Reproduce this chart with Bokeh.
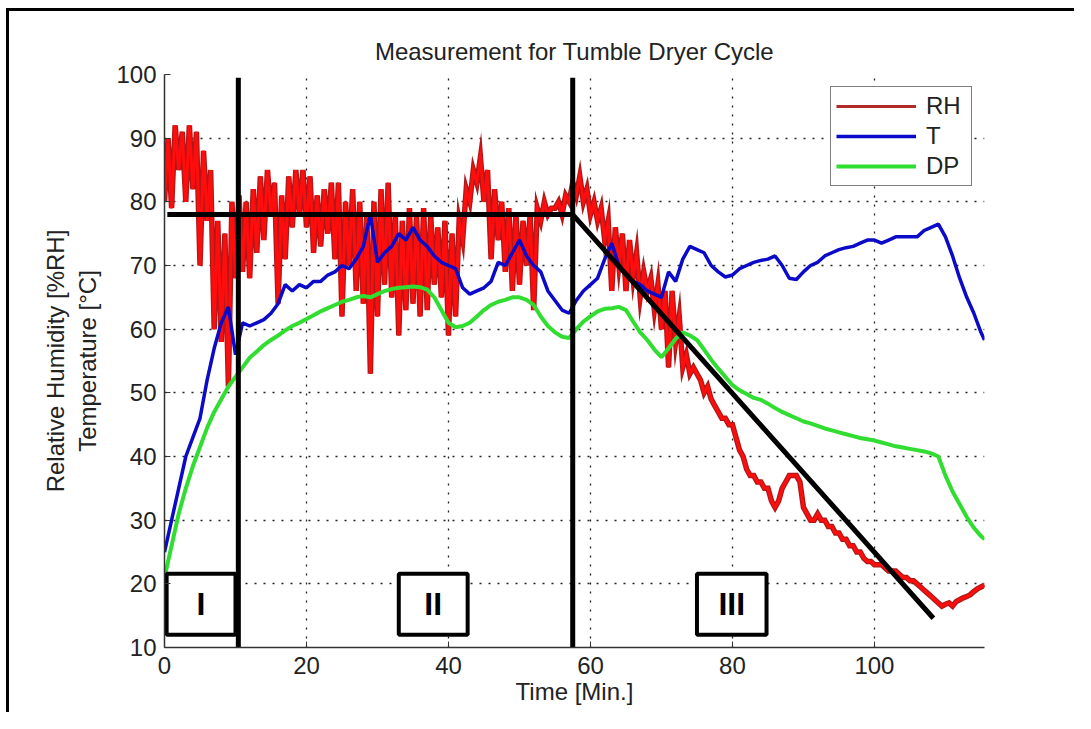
from bokeh.plotting import figure
from bokeh.models import Range1d, Legend, LegendItem, FixedTicker
from bokeh.core.properties import value
from bokeh.embed import file_html
from bokeh.resources import INLINE

# ---------------- data ----------------
time_rh = [i * 0.5 for i in range(232)]          # minutes, 0 .. 115.5
rh = [
    80, 90, 79, 92, 85, 91, 80, 92, 82, 91,
    70, 88, 77, 85, 60, 77, 58, 75, 51, 80,
    68, 81, 69, 80, 68, 82, 72, 84, 74, 85,
    78, 83, 64, 81, 71, 84, 76, 85, 78, 85,
    76, 84, 72, 81, 73, 82, 75, 83, 71, 83,
    62, 80, 70, 82, 66, 80, 64, 78, 53, 80,
    62, 82, 67, 83, 65, 78, 59, 77, 63, 79,
    64, 78, 62, 79, 63, 78, 67, 76, 65, 77,
    59, 75, 62, 77, 74, 82, 80, 85, 83, 87,
    80, 85, 71, 82, 74, 80, 69, 79, 66, 78,
    67, 77, 70, 78, 63, 79, 77, 80, 78, 79,
    79, 80, 78, 81, 80, 83, 81, 84, 80, 82,
    78, 80, 77, 79, 74, 77, 66, 76, 70, 75,
    66, 74, 68, 72, 65, 69, 66, 68, 63, 67,
    60, 66, 54, 66, 58, 62, 54, 56, 53, 54,
    53, 52, 50, 51, 49, 48, 47, 46, 46, 45,
    45, 43, 41, 40, 38, 37, 37, 36, 36, 35,
    35, 33, 32, 33, 35, 36, 37, 37, 37, 36,
    32, 31, 30, 30, 31, 30, 30, 29, 29, 28,
    28, 27, 27, 26, 26, 25, 25, 24, 23.5, 23.5,
    23, 23, 23, 22.5, 22, 22, 22, 21.5, 21, 21,
    20.5, 20.5, 20, 19.5, 19, 18.5, 18, 17.5, 17, 16.5,
    16.8, 17, 16.5, 17.2, 17.5, 17.8, 18, 18.3, 18.8, 19.2,
    19.5, 19.8,
]

time_td = list(range(116)) + [115.5]              # minutes
temp = [
    25, 30, 35, 40, 43, 46, 52, 57, 61, 63.5,
    56, 61, 60.5, 61, 61.5, 62.5, 64, 67, 66, 67,
    66.5, 67.5, 67.5, 68.5, 69, 70, 69.5, 71, 73, 78,
    70.5, 72, 73, 75, 74, 76, 74, 73, 71.5, 70.5,
    70, 69.5, 66.5, 65.5, 66, 66.5, 67.5, 70.5, 70, 72,
    74, 71.5, 70, 69, 66, 64.5, 63, 62.5, 64.5, 66,
    67, 68, 71, 73.5, 70, 68.5, 67.5, 67, 66, 65.5,
    65, 69, 67.5, 71, 73, 72.5, 72, 70, 69, 68.2,
    68.5, 69.5, 70, 70.5, 70.8, 71, 71.5, 70, 68, 67.8,
    69, 70, 70.5, 71.5, 72, 72.5, 72.8, 73, 73.5, 74,
    74, 73.5, 74, 74.5, 74.5, 74.5, 74.5, 75.5, 76, 76.5,
    74.5, 71.5, 68, 65, 62.5, 59.5,
    58.3,
]
dew = [
    21, 26, 31, 35, 38.5, 41.5, 44.5, 47, 49, 51,
    52.5, 54, 55.5, 56.5, 57.5, 58.3, 59, 59.8, 60.5, 61,
    61.6, 62.2, 62.8, 63.3, 63.8, 64.3, 64.6, 65, 65.2, 65,
    65.5, 66, 66.3, 66.5, 66.6, 66.7, 66.6, 66.2, 65, 63,
    61, 60.3, 60.5, 61, 62, 63, 63.8, 64.3, 64.6, 65,
    65, 64.6, 63.8, 62, 60.5, 59.5, 58.8, 58.6, 60, 61.2,
    62, 62.8, 63.2, 63.3, 63.5, 63, 61.2, 59.5, 58.3, 56.8,
    55.6, 57, 58.5, 59.5, 59, 58.3, 56.8, 55.2, 53.8, 52.5,
    51.2, 50.4, 49.8, 49.2, 48.9, 48.3, 47.6, 47, 46.5, 46,
    45.5, 45.2, 44.8, 44.4, 44.1, 43.8, 43.5, 43.2, 42.9, 42.7,
    42.5, 42.2, 41.9, 41.6, 41.4, 41.2, 41, 40.8, 40.5, 40,
    37, 34.5, 32.5, 30.5, 28.8, 27.5,
    27,
]

# phase annotation (hand drawn overlay)
phase_bounds = [10.4, 57.5]          # vertical separators (min)
phase_line_top = 99.5
trend_x = [0.4, 57.5, 108.3]         # plateau + decline line
trend_y = [78, 78, 14.6]
phase_names = ["I", "II", "III"]
box_left = [0.3, 33.0, 75.0]
box_right = [10.0, 42.7, 84.8]
box_bottom = [12.0, 12.0, 12.0]
box_top = [21.6, 21.6, 21.6]

x_ticks = [0, 20, 40, 60, 80, 100]
y_ticks = [10, 20, 30, 40, 50, 60, 70, 80, 90, 100]

FONT = "Liberation Sans"
FS = "24px"

# ---------------- figure ----------------
p = figure(width=1068, height=704,
           x_range=Range1d(0, 115.5), y_range=Range1d(10, 100),
           output_backend="svg", toolbar_location=None,
           min_border_left=155, min_border_right=93,
           min_border_top=63, min_border_bottom=68,
           title="Measurement for Tumble Dryer Cycle")
p.styles = {"border-left": "3px solid black", "border-top": "3px solid black",
            "margin-left": "6px", "margin-top": "8px"}
p.outline_line_color = None
p.background_fill_color = "white"
p.border_fill_color = "white"

p.title.align = "center"
p.title.text_font = FONT
p.title.text_font_size = FS
p.title.text_font_style = "normal"
p.title.text_color = "#222222"
p.title.standoff = 20

for ax in (p.xaxis[0], p.yaxis[0]):
    ax.axis_line_color = "#333333"
    ax.axis_line_width = 1.5
    ax.major_tick_in = 6
    ax.major_tick_out = 0
    ax.major_tick_line_color = "#333333"
    ax.minor_tick_line_color = None
    ax.major_label_text_font = FONT
    ax.major_label_text_font_size = FS
    ax.major_label_text_color = "#222222"
    ax.axis_label_text_font = FONT
    ax.axis_label_text_font_size = FS
    ax.axis_label_text_font_style = "normal"
    ax.axis_label_text_color = "#222222"

p.xaxis.ticker = FixedTicker(ticks=x_ticks)
p.yaxis.ticker = FixedTicker(ticks=y_ticks)
p.xaxis.axis_label = "Time [Min.]"
p.yaxis.axis_label = "Relative Humidity [%RH]\nTemperature [°C]"
p.xaxis.major_label_standoff = 9
p.yaxis.major_label_standoff = 8
p.xaxis.axis_label_standoff = 1
p.yaxis.axis_label_standoff = 12

for g in (p.xgrid[0], p.ygrid[0]):
    g.grid_line_color = "#222222"
    g.grid_line_dash = "2 7"
    g.grid_line_width = 1.3
p.xgrid.ticker = FixedTicker(ticks=x_ticks)
p.ygrid.ticker = FixedTicker(ticks=y_ticks)

# ---------------- series ----------------
rh_key = p.line(time_rh, rh, line_color="#b02a2a", line_width=3)   # legend key (hidden below)
rh_dark = p.line(time_rh, rh, line_color="#b01818", line_width=5.5, line_join="miter")
rh_core = p.line(time_rh, rh, line_color="#ff0d0d", line_width=3, line_join="miter")
t_line = p.line(time_td, temp, line_color="#0a0ac8", line_width=3.5)
dp_line = p.line(time_td, dew, line_color="#30dd30", line_width=4)

# ---------------- phase overlay ----------------
p.segment(x0=phase_bounds, x1=phase_bounds, y0=[10, 10], y1=[phase_line_top, phase_line_top],
          line_color="black", line_width=5)
p.line(trend_x, trend_y, line_color="black", line_width=5)
p.quad(left=box_left, right=box_right, bottom=box_bottom, top=box_top,
       fill_color="white", line_color="black", line_width=4)
p.text(x=[(a + b) / 2 for a, b in zip(box_left, box_right)],
       y=[(a + b) / 2 for a, b in zip(box_bottom, box_top)],
       text=phase_names, text_font=value(FONT), text_font_style="bold",
       text_font_size="32px", text_align="center", text_baseline="middle",
       text_color="black")

legend = Legend(items=[LegendItem(label="RH", renderers=[rh_key]),
                       LegendItem(label="T", renderers=[t_line]),
                       LegendItem(label="DP", renderers=[dp_line])],
                location="top_right")
legend.margin = 12
legend.padding = 5
legend.spacing = 2
legend.glyph_width = 80
legend.glyph_height = 26
legend.label_height = 26
legend.label_width = 40
legend.label_standoff = 10
legend.label_text_font = FONT
legend.label_text_font_size = FS
legend.label_text_color = "#222222"
legend.border_line_color = "black"
legend.border_line_width = 1.5
legend.background_fill_color = "white"
legend.background_fill_alpha = 1
p.add_layout(legend)

open("out.html", "w").write(file_html(p, INLINE))
